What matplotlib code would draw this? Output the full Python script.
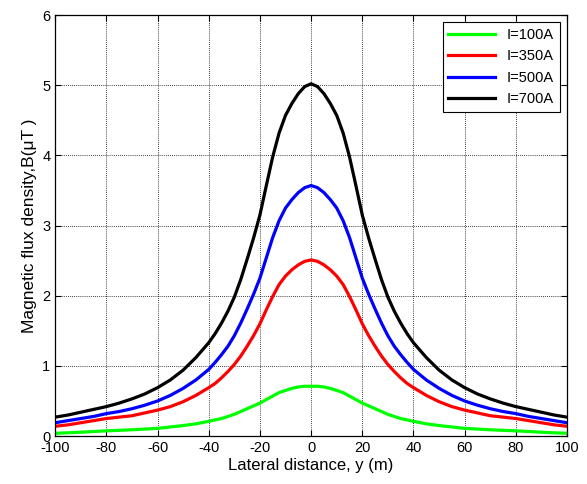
import numpy as np
import matplotlib.pyplot as plt

plt.rcParams['font.family'] = ['Liberation Sans', 'DejaVu Sans']
plt.rcParams['axes.unicode_minus'] = False

# lateral distance (m): 5 m steps in the tails, 2.5 m steps near the centre
distance = [-100, -95, -90, -85, -80, -75, -70, -65, -60, -55, -50, -45,
            -40, -37.5, -35, -32.5, -30, -27.5, -25, -22.5, -20, -17.5, -15, -12.5, -10, -7.5, -5, -2.5,
            0,
            2.5, 5, 7.5, 10, 12.5, 15, 17.5, 20, 22.5, 25, 27.5, 30, 32.5, 35, 37.5, 40,
            45, 50, 55, 60, 65, 70, 75, 80, 85, 90, 95, 100]

# magnetic flux density (uT)
b_100 = [0.04, 0.047, 0.055, 0.065, 0.075, 0.082, 0.09, 0.10, 0.11, 0.13, 0.15, 0.175,
         0.21, 0.23, 0.25, 0.28, 0.31, 0.35, 0.39, 0.43, 0.47, 0.52, 0.57, 0.62, 0.65, 0.68, 0.70, 0.71,
         0.71,
         0.71, 0.70, 0.68, 0.65, 0.62, 0.57, 0.52, 0.47, 0.43, 0.39, 0.35, 0.31, 0.28, 0.25, 0.23, 0.21,
         0.175, 0.15, 0.13, 0.11, 0.10, 0.09, 0.082, 0.075, 0.065, 0.055, 0.047, 0.04]
b_350 = [0.14, 0.16, 0.19, 0.22, 0.25, 0.27, 0.29, 0.33, 0.37, 0.42, 0.49, 0.58,
         0.69, 0.75, 0.83, 0.92, 1.02, 1.14, 1.28, 1.43, 1.60, 1.80, 1.99, 2.16, 2.28, 2.37, 2.44, 2.49,
         2.51,
         2.49, 2.44, 2.37, 2.28, 2.16, 1.99, 1.80, 1.60, 1.43, 1.28, 1.14, 1.02, 0.92, 0.83, 0.75, 0.69,
         0.58, 0.49, 0.42, 0.37, 0.33, 0.29, 0.27, 0.25, 0.22, 0.19, 0.16, 0.14]
b_500 = [0.19, 0.22, 0.25, 0.28, 0.32, 0.35, 0.39, 0.44, 0.50, 0.58, 0.68, 0.80,
         0.95, 1.05, 1.16, 1.28, 1.43, 1.61, 1.81, 2.02, 2.25, 2.54, 2.83, 3.07, 3.25, 3.37, 3.47, 3.54,
         3.57,
         3.54, 3.47, 3.37, 3.25, 3.07, 2.83, 2.54, 2.25, 2.02, 1.81, 1.61, 1.43, 1.28, 1.16, 1.05, 0.95,
         0.80, 0.68, 0.58, 0.50, 0.44, 0.39, 0.35, 0.32, 0.28, 0.25, 0.22, 0.19]
b_700 = [0.27, 0.30, 0.34, 0.38, 0.42, 0.47, 0.53, 0.60, 0.69, 0.80, 0.94, 1.12,
         1.33, 1.46, 1.61, 1.78, 1.98, 2.23, 2.52, 2.82, 3.15, 3.57, 3.98, 4.32, 4.57, 4.74, 4.88, 4.98,
         5.02,
         4.98, 4.88, 4.74, 4.57, 4.32, 3.98, 3.57, 3.15, 2.82, 2.52, 2.23, 1.98, 1.78, 1.61, 1.46, 1.33,
         1.12, 0.94, 0.80, 0.69, 0.60, 0.53, 0.47, 0.42, 0.38, 0.34, 0.30, 0.27]

series = [
    ('I=100A', b_100, '#00ff00'),
    ('I=350A', b_350, '#ff0000'),
    ('I=500A', b_500, '#0000ff'),
    ('I=700A', b_700, '#000000'),
]

fig = plt.figure(figsize=(5.87, 4.84), dpi=100)
ax = fig.add_axes([0.094, 0.099, 0.872, 0.870])

for label, vals, col in series:
    ax.plot(distance, vals, color=col, linewidth=2.3, label=label)

ax.set_xlim(-100, 100)
ax.set_ylim(0, 6)
ax.set_xticks(np.arange(-100, 101, 20))
ax.set_yticks(np.arange(0, 7, 1))
ax.grid(True, color='black', linestyle=(0, (1, 1.5)), linewidth=0.6)
ax.tick_params(direction='in', top=True, right=True, labelsize=10.5, length=4, width=0.8)
for sp in ax.spines.values():
    sp.set_linewidth(0.9)

ax.set_xlabel('Lateral distance, y (m)', fontsize=12, labelpad=2)
ax.set_ylabel('Magnetic flux density,B(\u03bcT )', fontsize=12.5, labelpad=4)

leg = ax.legend(loc='upper right', fontsize=10.5, frameon=True, fancybox=False,
                edgecolor='black', framealpha=1, handlelength=3.2, borderaxespad=0.5)
leg.get_frame().set_linewidth(0.8)

fig.savefig('out.png', dpi=100, facecolor='white')
